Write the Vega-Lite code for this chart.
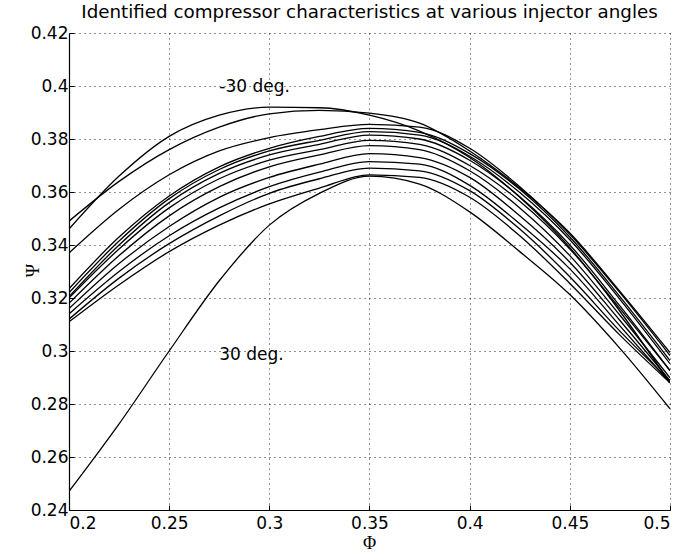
{
  "$schema": "https://vega.github.io/schema/vega-lite/v6.json",
  "width": 601,
  "height": 477,
  "autosize": "none",
  "padding": {"left": 69, "top": 33, "right": 12, "bottom": 44},
  "background": "white",
  "title": {"text": "Identified compressor characteristics at various injector angles", "fontSize": 18.3, "font": "DejaVu Sans", "fontWeight": "normal", "color": "black", "offset": 2, "anchor": "middle"},
  "config": {
    "view": {"stroke": null},
    "axis": {
      "domainColor": "black", "domainWidth": 1.2,
      "tickColor": "black", "tickSize": -5, "tickWidth": 1,
      "labelFont": "DejaVu Sans", "labelFontSize": 17, "labelColor": "black",
      "grid": true, "gridColor": "black", "gridDash": [1, 4], "gridOpacity": 0.85, "gridWidth": 1,
      "titleFont": "Liberation Serif", "titleFontSize": 18, "titleFontWeight": "normal", "titleColor": "black"
    }
  },
  "layer": [
    {
      "data": {"values": [
        {"angle": -30, "phi": 0.2, "psi": 0.346}, {"angle": -30, "phi": 0.225, "psi": 0.366}, {"angle": -30, "phi": 0.25, "psi": 0.381}, {"angle": -30, "phi": 0.275, "psi": 0.389}, {"angle": -30, "phi": 0.3, "psi": 0.392}, {"angle": -30, "phi": 0.325, "psi": 0.3918}, {"angle": -30, "phi": 0.35, "psi": 0.389}, {"angle": -30, "phi": 0.375, "psi": 0.383}, {"angle": -30, "phi": 0.4, "psi": 0.373}, {"angle": -30, "phi": 0.425, "psi": 0.358}, {"angle": -30, "phi": 0.45, "psi": 0.339}, {"angle": -30, "phi": 0.475, "psi": 0.315}, {"angle": -30, "phi": 0.5, "psi": 0.288},
        {"angle": -25, "phi": 0.2, "psi": 0.349}, {"angle": -25, "phi": 0.225, "psi": 0.364}, {"angle": -25, "phi": 0.25, "psi": 0.376}, {"angle": -25, "phi": 0.275, "psi": 0.3845}, {"angle": -25, "phi": 0.3, "psi": 0.3895}, {"angle": -25, "phi": 0.325, "psi": 0.3908}, {"angle": -25, "phi": 0.35, "psi": 0.3898}, {"angle": -25, "phi": 0.375, "psi": 0.386}, {"angle": -25, "phi": 0.4, "psi": 0.3755}, {"angle": -25, "phi": 0.425, "psi": 0.3615}, {"angle": -25, "phi": 0.45, "psi": 0.3445}, {"angle": -25, "phi": 0.475, "psi": 0.3225}, {"angle": -25, "phi": 0.5, "psi": 0.2994},
        {"angle": -20, "phi": 0.2, "psi": 0.337}, {"angle": -20, "phi": 0.225, "psi": 0.3535}, {"angle": -20, "phi": 0.25, "psi": 0.3665}, {"angle": -20, "phi": 0.275, "psi": 0.3755}, {"angle": -20, "phi": 0.3, "psi": 0.3805}, {"angle": -20, "phi": 0.325, "psi": 0.3835}, {"angle": -20, "phi": 0.35, "psi": 0.3855}, {"angle": -20, "phi": 0.375, "psi": 0.3845}, {"angle": -20, "phi": 0.4, "psi": 0.3765}, {"angle": -20, "phi": 0.425, "psi": 0.362}, {"angle": -20, "phi": 0.45, "psi": 0.344}, {"angle": -20, "phi": 0.475, "psi": 0.322}, {"angle": -20, "phi": 0.5, "psi": 0.2983},
        {"angle": -15, "phi": 0.2, "psi": 0.3235}, {"angle": -15, "phi": 0.225, "psi": 0.343}, {"angle": -15, "phi": 0.25, "psi": 0.3585}, {"angle": -15, "phi": 0.275, "psi": 0.3695}, {"angle": -15, "phi": 0.3, "psi": 0.3765}, {"angle": -15, "phi": 0.325, "psi": 0.381}, {"angle": -15, "phi": 0.35, "psi": 0.384}, {"angle": -15, "phi": 0.375, "psi": 0.3825}, {"angle": -15, "phi": 0.4, "psi": 0.3745}, {"angle": -15, "phi": 0.425, "psi": 0.361}, {"angle": -15, "phi": 0.45, "psi": 0.343}, {"angle": -15, "phi": 0.475, "psi": 0.3205}, {"angle": -15, "phi": 0.5, "psi": 0.2964},
        {"angle": -10, "phi": 0.2, "psi": 0.322}, {"angle": -10, "phi": 0.225, "psi": 0.3415}, {"angle": -10, "phi": 0.25, "psi": 0.3575}, {"angle": -10, "phi": 0.275, "psi": 0.3685}, {"angle": -10, "phi": 0.3, "psi": 0.3755}, {"angle": -10, "phi": 0.325, "psi": 0.3795}, {"angle": -10, "phi": 0.35, "psi": 0.3828}, {"angle": -10, "phi": 0.375, "psi": 0.3815}, {"angle": -10, "phi": 0.4, "psi": 0.3735}, {"angle": -10, "phi": 0.425, "psi": 0.3598}, {"angle": -10, "phi": 0.45, "psi": 0.342}, {"angle": -10, "phi": 0.475, "psi": 0.3195}, {"angle": -10, "phi": 0.5, "psi": 0.2952},
        {"angle": -5, "phi": 0.2, "psi": 0.3205}, {"angle": -5, "phi": 0.225, "psi": 0.34}, {"angle": -5, "phi": 0.25, "psi": 0.356}, {"angle": -5, "phi": 0.275, "psi": 0.367}, {"angle": -5, "phi": 0.3, "psi": 0.374}, {"angle": -5, "phi": 0.325, "psi": 0.378}, {"angle": -5, "phi": 0.35, "psi": 0.3815}, {"angle": -5, "phi": 0.375, "psi": 0.38}, {"angle": -5, "phi": 0.4, "psi": 0.372}, {"angle": -5, "phi": 0.425, "psi": 0.3582}, {"angle": -5, "phi": 0.45, "psi": 0.34}, {"angle": -5, "phi": 0.475, "psi": 0.317}, {"angle": -5, "phi": 0.5, "psi": 0.2926},
        {"angle": 0, "phi": 0.2, "psi": 0.32}, {"angle": 0, "phi": 0.225, "psi": 0.3385}, {"angle": 0, "phi": 0.25, "psi": 0.354}, {"angle": 0, "phi": 0.275, "psi": 0.365}, {"angle": 0, "phi": 0.3, "psi": 0.372}, {"angle": 0, "phi": 0.325, "psi": 0.376}, {"angle": 0, "phi": 0.35, "psi": 0.3795}, {"angle": 0, "phi": 0.375, "psi": 0.378}, {"angle": 0, "phi": 0.4, "psi": 0.37}, {"angle": 0, "phi": 0.425, "psi": 0.3565}, {"angle": 0, "phi": 0.45, "psi": 0.3385}, {"angle": 0, "phi": 0.475, "psi": 0.316}, {"angle": 0, "phi": 0.5, "psi": 0.2926},
        {"angle": 5, "phi": 0.2, "psi": 0.318}, {"angle": 5, "phi": 0.225, "psi": 0.336}, {"angle": 5, "phi": 0.25, "psi": 0.351}, {"angle": 5, "phi": 0.275, "psi": 0.362}, {"angle": 5, "phi": 0.3, "psi": 0.3695}, {"angle": 5, "phi": 0.325, "psi": 0.374}, {"angle": 5, "phi": 0.35, "psi": 0.3775}, {"angle": 5, "phi": 0.375, "psi": 0.376}, {"angle": 5, "phi": 0.4, "psi": 0.368}, {"angle": 5, "phi": 0.425, "psi": 0.354}, {"angle": 5, "phi": 0.45, "psi": 0.336}, {"angle": 5, "phi": 0.475, "psi": 0.3135}, {"angle": 5, "phi": 0.5, "psi": 0.2899},
        {"angle": 10, "phi": 0.2, "psi": 0.316}, {"angle": 10, "phi": 0.225, "psi": 0.333}, {"angle": 10, "phi": 0.25, "psi": 0.347}, {"angle": 10, "phi": 0.275, "psi": 0.358}, {"angle": 10, "phi": 0.3, "psi": 0.3655}, {"angle": 10, "phi": 0.325, "psi": 0.3705}, {"angle": 10, "phi": 0.35, "psi": 0.3745}, {"angle": 10, "phi": 0.375, "psi": 0.373}, {"angle": 10, "phi": 0.4, "psi": 0.3655}, {"angle": 10, "phi": 0.425, "psi": 0.351}, {"angle": 10, "phi": 0.45, "psi": 0.3335}, {"angle": 10, "phi": 0.475, "psi": 0.3115}, {"angle": 10, "phi": 0.5, "psi": 0.2888},
        {"angle": 15, "phi": 0.2, "psi": 0.314}, {"angle": 15, "phi": 0.225, "psi": 0.33}, {"angle": 15, "phi": 0.25, "psi": 0.3435}, {"angle": 15, "phi": 0.275, "psi": 0.354}, {"angle": 15, "phi": 0.3, "psi": 0.362}, {"angle": 15, "phi": 0.325, "psi": 0.3675}, {"angle": 15, "phi": 0.35, "psi": 0.3715}, {"angle": 15, "phi": 0.375, "psi": 0.3705}, {"angle": 15, "phi": 0.4, "psi": 0.3625}, {"angle": 15, "phi": 0.425, "psi": 0.348}, {"angle": 15, "phi": 0.45, "psi": 0.331}, {"angle": 15, "phi": 0.475, "psi": 0.3095}, {"angle": 15, "phi": 0.5, "psi": 0.288},
        {"angle": 20, "phi": 0.2, "psi": 0.312}, {"angle": 20, "phi": 0.225, "psi": 0.3275}, {"angle": 20, "phi": 0.25, "psi": 0.3405}, {"angle": 20, "phi": 0.275, "psi": 0.351}, {"angle": 20, "phi": 0.3, "psi": 0.3595}, {"angle": 20, "phi": 0.325, "psi": 0.365}, {"angle": 20, "phi": 0.35, "psi": 0.369}, {"angle": 20, "phi": 0.375, "psi": 0.368}, {"angle": 20, "phi": 0.4, "psi": 0.3605}, {"angle": 20, "phi": 0.425, "psi": 0.346}, {"angle": 20, "phi": 0.45, "psi": 0.328}, {"angle": 20, "phi": 0.475, "psi": 0.3075}, {"angle": 20, "phi": 0.5, "psi": 0.2888},
        {"angle": 25, "phi": 0.2, "psi": 0.311}, {"angle": 25, "phi": 0.225, "psi": 0.325}, {"angle": 25, "phi": 0.25, "psi": 0.3375}, {"angle": 25, "phi": 0.275, "psi": 0.3475}, {"angle": 25, "phi": 0.3, "psi": 0.3555}, {"angle": 25, "phi": 0.325, "psi": 0.3615}, {"angle": 25, "phi": 0.35, "psi": 0.3665}, {"angle": 25, "phi": 0.375, "psi": 0.3655}, {"angle": 25, "phi": 0.4, "psi": 0.358}, {"angle": 25, "phi": 0.425, "psi": 0.3435}, {"angle": 25, "phi": 0.45, "psi": 0.3255}, {"angle": 25, "phi": 0.475, "psi": 0.306}, {"angle": 25, "phi": 0.5, "psi": 0.288},
        {"angle": 30, "phi": 0.2, "psi": 0.247}, {"angle": 30, "phi": 0.225, "psi": 0.2725}, {"angle": 30, "phi": 0.25, "psi": 0.3}, {"angle": 30, "phi": 0.275, "psi": 0.3265}, {"angle": 30, "phi": 0.3, "psi": 0.3475}, {"angle": 30, "phi": 0.325, "psi": 0.3595}, {"angle": 30, "phi": 0.35, "psi": 0.366}, {"angle": 30, "phi": 0.375, "psi": 0.363}, {"angle": 30, "phi": 0.4, "psi": 0.3525}, {"angle": 30, "phi": 0.425, "psi": 0.3375}, {"angle": 30, "phi": 0.45, "psi": 0.3213}, {"angle": 30, "phi": 0.475, "psi": 0.301}, {"angle": 30, "phi": 0.5, "psi": 0.2782}
      ]},
      "mark": {"type": "line", "color": "black", "strokeWidth": 1.3, "interpolate": "monotone", "clip": true},
      "encoding": {
        "x": {"field": "phi", "type": "quantitative", "scale": {"domain": [0.2, 0.5], "nice": false, "zero": false},
              "axis": {"values": [0.2, 0.25, 0.3, 0.35, 0.4, 0.45, 0.5], "format": "~g", "title": "Φ", "labelPadding": 10,
                       "titleX": 300, "titleY": 33, "titleAlign": "center", "titleBaseline": "middle"}},
        "y": {"field": "psi", "type": "quantitative", "scale": {"domain": [0.24, 0.42], "nice": false, "zero": false},
              "axis": {"values": [0.24, 0.26, 0.28, 0.3, 0.32, 0.34, 0.36, 0.38, 0.4, 0.42], "format": "~g", "title": "Ψ", "labelPadding": 6,
                       "titleX": -36, "titleY": 237, "titleAngle": 270, "titleAlign": "center", "titleBaseline": "middle"}},
        "detail": {"field": "angle", "type": "nominal"}
      }
    },
    {
      "data": {"values": [
        {"phi": 0.275, "psi": 0.3995, "label": "-30 deg."},
        {"phi": 0.275, "psi": 0.2985, "label": "30 deg."}
      ]},
      "mark": {"type": "text", "align": "left", "baseline": "middle", "font": "DejaVu Sans", "fontSize": 17, "color": "black"},
      "encoding": {
        "x": {"field": "phi", "type": "quantitative"},
        "y": {"field": "psi", "type": "quantitative"},
        "text": {"field": "label", "type": "nominal"}
      }
    }
  ]
}
